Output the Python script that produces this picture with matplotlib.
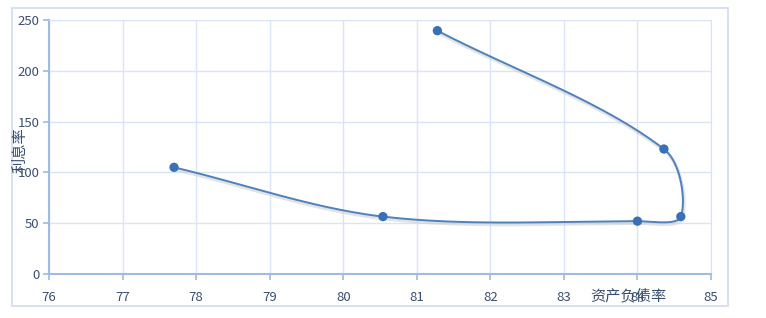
import numpy as np
import matplotlib
matplotlib.use("Agg")
import matplotlib.pyplot as plt
from matplotlib.patches import Rectangle

plt.rcParams['font.family'] = ['Noto Sans CJK SC', 'DejaVu Sans']

# 资产负债率 (x) vs 利息率 (y), in drawing order
debt_ratio = [77.70, 80.54, 84.00, 84.59, 84.36, 81.28]
interest_rate = [105, 56.5, 52, 56.5, 123, 239.5]
x_ticks = [76, 77, 78, 79, 80, 81, 82, 83, 84, 85]
y_ticks = [0, 50, 100, 150, 200, 250]

LINE = "#4f81bd"
GRID = "#d9e5f5"
AXIS = "#9dbbe3"
TEXT = "#3a4f6e"


def smooth(ax, xs, ys, n=50):
    # smoothed line through the points: bezier pieces, tangent arms weighted by
    # the neighbouring segment lengths (worked out in pixel space)
    fig.canvas.draw()
    p = ax.transData.transform(np.column_stack([xs, ys]))
    p = np.vstack([2 * p[0] - p[1], p, 2 * p[-1] - p[-2]])
    out = []
    for i in range(1, len(p) - 2):
        p0, p1, p2, p3 = p[i - 1], p[i], p[i + 1], p[i + 2]
        d0 = np.linalg.norm(p1 - p0)
        d1 = np.linalg.norm(p2 - p1)
        d2 = np.linalg.norm(p3 - p2)
        c1 = p1 + (p2 - p0) * d1 / (d0 + d1) / 3
        c2 = p2 - (p3 - p1) * d1 / (d1 + d2) / 3
        t = np.linspace(0, 1, n)[:, None]
        seg = ((1 - t) ** 3) * p1 + 3 * ((1 - t) ** 2) * t * c1 + 3 * (1 - t) * t ** 2 * c2 + t ** 3 * p2
        out.append(seg)
    out = ax.transData.inverted().transform(np.vstack(out))
    return out[:, 0], out[:, 1]


fig = plt.figure(figsize=(7.66, 3.18), dpi=100)
ax = fig.add_axes([49 / 766, 1 - 274 / 318, (711 - 49) / 766, (274 - 20) / 318])

# outer chart frame
fig.patches.append(Rectangle((12 / 766, 1 - 306 / 318), (728 - 12) / 766, (306 - 8) / 318,
                             transform=fig.transFigure, fill=False, edgecolor="#cfdcef", lw=1.2))

ax.set_xlim(76, 85)
ax.set_ylim(0, 250)
ax.set_xticks(x_ticks)
ax.set_yticks(y_ticks)
ax.grid(True, color=GRID, lw=1.0)
ax.set_axisbelow(True)
for s in ["top", "right"]:
    ax.spines[s].set_color(GRID)
for s in ["left", "bottom"]:
    ax.spines[s].set_color(AXIS)
    ax.spines[s].set_linewidth(1.5)
ax.tick_params(axis="both", colors=AXIS, length=4, width=1.2, labelsize=9.5, labelcolor=TEXT)
ax.tick_params(axis="x", pad=8)
ax.tick_params(axis="y", pad=3)

sx, sy = smooth(ax, debt_ratio, interest_rate)
ax.plot(sx, sy, color="#c8c8c8", lw=2.5, alpha=0.5, zorder=2,
        transform=ax.transData + matplotlib.transforms.ScaledTranslation(1 / 100, -2 / 100, fig.dpi_scale_trans))
ax.plot(sx, sy, color=LINE, lw=1.4, zorder=3)
ax.scatter(debt_ratio, interest_rate, s=45, color="#3a70b5", zorder=4, edgecolors="none")

fig.text(628 / 766, 1 - 296 / 318, "资产负债率", ha="center", va="center", fontsize=11, color=TEXT)
fig.text(20 / 766, 1 - 150 / 318, "利息率", ha="center", va="center", rotation=90, fontsize=11, color=TEXT)

fig.savefig("out.png", dpi=100)
